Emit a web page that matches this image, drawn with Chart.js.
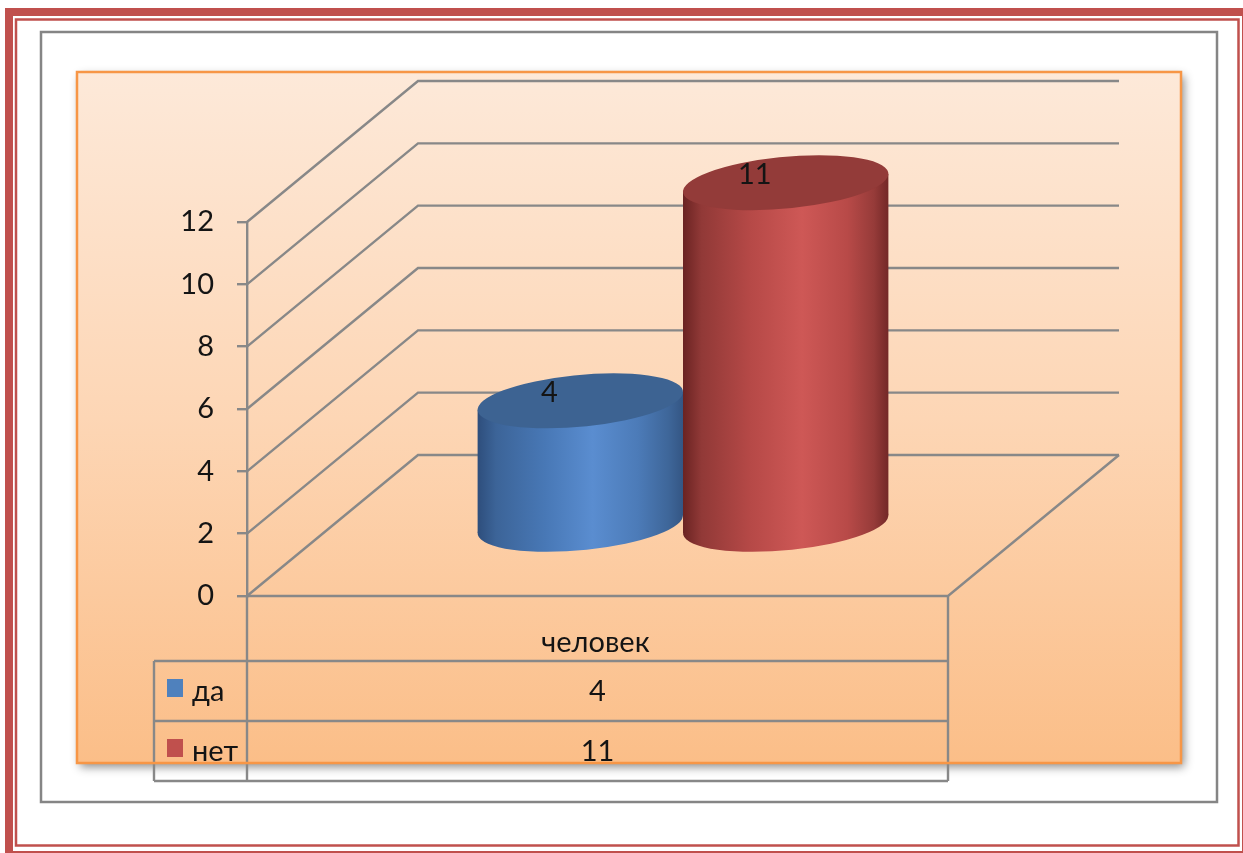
<!DOCTYPE html>
<html>
<head>
<meta charset="utf-8">
<script src="https://cdn.jsdelivr.net/npm/chart.js@4.4.1/dist/chart.umd.min.js"></script>
<style>
  html, body { margin: 0; padding: 0; background: #ffffff; }
  canvas { display: block; }
</style>
</head>
<body>
<canvas id="chart" width="1243" height="853"></canvas>
<script>
// ---- data ----
const categories = ['человек'];
const seriesNames = ['да', 'нет'];
const daValues = [4];
const netValues = [11];
const yTickValues = [0, 2, 4, 6, 8, 10, 12];

// ---- styling ----
const TEXT_FONT = '29px Lato, "Open Sans", sans-serif';
const TEXT_COLOR = '#141414';
const GRID_COLOR = '#888888';
const GRID_WIDTH = 2.4;
const DEPTH = { x: 171, y: -141 };        // oblique offset from front plane to back wall
const CYL_HALF_DEPTH = 27.5;              // on-screen half height of a cylinder cap
const LEGEND_COL_W = 93;                  // width of the legend column in the data table
const ROW_HEIGHTS = [65, 60, 60];         // category row, then one row per series

const seriesStyles = [
  {
    key: '#4F81BD',
    top: '#3D6392',
    stops: [[0, '#2E4E7C'], [0.09, '#3C6498'], [0.33, '#4878B6'], [0.56, '#5A8DD0'],
            [0.78, '#4C7BB8'], [0.93, '#3E6699'], [1, '#345684']]
  },
  {
    key: '#C0504D',
    top: '#933B39',
    stops: [[0, '#6A2322'], [0.09, '#913937'], [0.33, '#B64947'], [0.58, '#CE5856'],
            [0.8, '#B84A48'], [0.93, '#963B39'], [1, '#732827']]
  }
];

// frames and the peach plot panel behind the chart
const backgroundPlugin = {
  id: 'pageBackground',
  beforeDraw(chart) {
    const ctx = chart.ctx;
    ctx.save();
    ctx.fillStyle = '#ffffff';
    ctx.fillRect(0, 0, chart.width, chart.height);

    ctx.strokeStyle = '#C0504D';
    ctx.lineWidth = 8;
    ctx.strokeRect(9, 12, 1237, 843);
    ctx.lineWidth = 2.5;
    ctx.strokeRect(16, 19.5, 1222.5, 826);

    ctx.strokeStyle = '#858585';
    ctx.lineWidth = 2.5;
    ctx.strokeRect(41, 32, 1176, 770);

    const g = ctx.createLinearGradient(0, 72, 0, 763);
    g.addColorStop(0, '#FDE9D9');
    g.addColorStop(0.5, '#FDD6B5');
    g.addColorStop(1, '#FBBE88');
    ctx.save();
    ctx.shadowColor = 'rgba(0,0,0,0.45)';
    ctx.shadowBlur = 9;
    ctx.shadowOffsetX = 3;
    ctx.shadowOffsetY = 4;
    ctx.fillStyle = g;
    ctx.fillRect(77, 72, 1104, 691);
    ctx.restore();
    ctx.restore();
  }
};

// side wall, back wall, floor and the data table under the axis
const wallsPlugin = {
  id: 'walls3d',
  beforeDatasetsDraw(chart) {
    const ctx = chart.ctx;
    const { left, right } = chart.chartArea;
    const y = chart.scales.y;
    ctx.save();
    ctx.strokeStyle = GRID_COLOR;
    ctx.lineWidth = GRID_WIDTH;
    ctx.lineJoin = 'miter';

    yTickValues.forEach(v => {
      const py = y.getPixelForValue(v);
      ctx.beginPath();
      ctx.moveTo(left, py);
      ctx.lineTo(left + DEPTH.x, py + DEPTH.y);
      ctx.lineTo(right + DEPTH.x, py + DEPTH.y);
      ctx.stroke();
    });

    const y0 = y.getPixelForValue(0);
    ctx.beginPath();
    ctx.moveTo(left, y0);
    ctx.lineTo(right, y0);
    ctx.lineTo(right + DEPTH.x, y0 + DEPTH.y);
    ctx.stroke();

    // data table
    const tLeft = left - LEGEND_COL_W;
    const rowTops = [y0];
    ROW_HEIGHTS.forEach(h => rowTops.push(rowTops[rowTops.length - 1] + h));
    const tBottom = rowTops[rowTops.length - 1];

    ctx.beginPath();
    ctx.moveTo(left, y0); ctx.lineTo(left, tBottom);
    ctx.moveTo(right, y0); ctx.lineTo(right, tBottom);
    ctx.moveTo(tLeft, rowTops[1]); ctx.lineTo(tLeft, tBottom);
    for (let i = 1; i < rowTops.length; i++) {
      ctx.moveTo(tLeft, rowTops[i]);
      ctx.lineTo(right, rowTops[i]);
    }
    ctx.stroke();

    ctx.font = TEXT_FONT;
    ctx.fillStyle = TEXT_COLOR;
    ctx.textBaseline = 'alphabetic';
    const colMid = (left + right) / 2;
    ctx.textAlign = 'center';
    ctx.fillText(categories[0], colMid - 2, rowTops[1] - 9);

    const rowValues = [daValues, netValues];
    seriesNames.forEach((name, i) => {
      const top = rowTops[i + 1];
      const base = top + 40;
      ctx.fillStyle = seriesStyles[i].key;
      ctx.fillRect(tLeft + 13, top + 18, 16, 18);
      ctx.fillStyle = TEXT_COLOR;
      ctx.textAlign = 'left';
      ctx.fillText(name, tLeft + 38, base);
      ctx.textAlign = 'center';
      ctx.fillText(String(rowValues[i][0]), colMid, base);
    });
    ctx.restore();
  }
};

function drawCylinder(ctx, cx, topY, botY, W, style) {
  const b = CYL_HALF_DEPTH;
  const a = b * (-DEPTH.x / DEPTH.y);
  const R = Math.sqrt(Math.max(W * W - a * a, 1));
  const h = b * a / W;
  const ellipse = (cy) => {
    ctx.beginPath();
    ctx.save();
    ctx.translate(cx, cy);
    ctx.transform(R, 0, a, -b, 0, 0);
    ctx.arc(0, 0, 1, 0, Math.PI * 2);
    ctx.restore();
  };
  const grad = ctx.createLinearGradient(cx - W, 0, cx + W, 0);
  style.stops.forEach(([p, c]) => grad.addColorStop(p, c));

  ctx.fillStyle = grad;
  ellipse(botY);
  ctx.fill();
  ctx.beginPath();
  ctx.moveTo(cx - W, topY + h);
  ctx.lineTo(cx + W, topY - h);
  ctx.lineTo(cx + W, botY - h);
  ctx.lineTo(cx - W, botY + h);
  ctx.closePath();
  ctx.fill();

  ctx.fillStyle = style.top;
  ellipse(topY);
  ctx.fill();
}

// cylinders standing in the middle of the floor depth, with value labels on the caps
const cylinderPlugin = {
  id: 'cylinders',
  afterDatasetsDraw(chart) {
    const ctx = chart.ctx;
    ctx.save();
    chart.data.datasets.forEach((ds, i) => {
      const meta = chart.getDatasetMeta(i);
      meta.data.forEach((el, j) => {
        const p = el.getProps(['x', 'y', 'base', 'width'], true);
        const cx = p.x + DEPTH.x / 2;
        const topY = p.y + DEPTH.y / 2;
        const botY = p.base + DEPTH.y / 2;
        drawCylinder(ctx, cx, topY, botY, p.width / 2, seriesStyles[i]);
        ctx.font = TEXT_FONT;
        ctx.fillStyle = TEXT_COLOR;
        ctx.textAlign = 'center';
        ctx.textBaseline = 'middle';
        ctx.fillText(String(ds.data[j]), cx - 31, topY - 8);
      });
    });
    ctx.restore();
  }
};

// panel border painted over the table
const panelBorderPlugin = {
  id: 'panelBorder',
  afterDraw(chart) {
    const ctx = chart.ctx;
    ctx.save();
    ctx.strokeStyle = '#F79646';
    ctx.lineWidth = 2.5;
    ctx.strokeRect(77, 72, 1104, 691);
    ctx.restore();
  }
};

new Chart(document.getElementById('chart'), {
  type: 'bar',
  data: {
    labels: categories,
    datasets: [
      { label: seriesNames[0], data: daValues, backgroundColor: 'rgba(0,0,0,0)' },
      { label: seriesNames[1], data: netValues, backgroundColor: 'rgba(0,0,0,0)' }
    ]
  },
  options: {
    responsive: false,
    animation: false,
    devicePixelRatio: 1,
    layout: { padding: { left: 0, top: 222, right: 295, bottom: 257 } },
    datasets: { bar: { barPercentage: 1, categoryPercentage: 0.586 } },
    plugins: { legend: { display: false }, tooltip: { enabled: false } },
    scales: {
      x: { display: false },
      y: {
        min: 0,
        max: 12,
        afterFit(scale) { scale.width = 247; },
        afterBuildTicks(scale) { scale.ticks = yTickValues.map(v => ({ value: v })); },
        grid: {
          drawOnChartArea: false,
          drawTicks: true,
          tickLength: 10,
          color: GRID_COLOR,
          lineWidth: GRID_WIDTH
        },
        border: { display: true, color: GRID_COLOR, width: GRID_WIDTH },
        ticks: {
          padding: 23,
          color: TEXT_COLOR,
          font: { family: 'Lato, "Open Sans", sans-serif', size: 29 }
        }
      }
    }
  },
  plugins: [backgroundPlugin, wallsPlugin, cylinderPlugin, panelBorderPlugin]
});
</script>
</body>
</html>
